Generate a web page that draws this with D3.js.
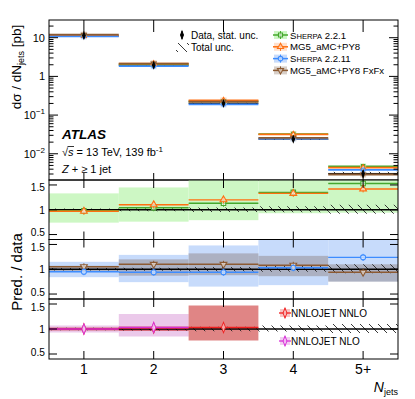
<!DOCTYPE html>
<html>
<head>
<meta charset="utf-8" />
<script src="https://cdn.jsdelivr.net/npm/d3@7"></script>
<style>
  body { margin: 0; background: #fff; }
  text { font-family: "Liberation Sans", Arial, sans-serif; fill: #000; }
</style>
</head>
<body>
<svg id="chart"></svg>
<script>
// ---- values ----
const bins = ["1", "2", "3", "4", "5+"];
const dataXs = [11.4, 1.95, 0.201, 0.024, 0.0031];     // pb
const totUp = [1.025, 1.03, 1.045, 1.07, 1.10];        // total unc. (relative)
const totDn = [0.975, 0.97, 0.955, 0.95, 0.92];

// prediction / data
const sherpa221 = [0.98, 1.04, 1.13, 1.35, 1.53];
const sherpa221Lo = [0.74, 0.76, 0.79, 0.93, 0.94];
const sherpa221Hi = [1.33, 1.45, 1.70, 1.70, 1.70];
const mg5 = [0.97, 1.10, 1.20, 1.33, 1.42];
const sherpa2211 = [0.95, 0.94, 0.94, 1.03, 1.24];
const sherpa2211Lo = [0.84, 0.74, 0.65, 0.68, 0.79];
const sherpa2211Hi = [1.15, 1.29, 1.48, 1.70, 1.70];
const fxfx = [1.05, 1.10, 1.10, 1.08, 0.94];
const fxfxLo = [0.95, 0.87, 0.88, 0.86, 0.75];
const fxfxHi = [1.07, 1.20, 1.32, 1.27, 1.10];
const nnlo = [1.0, 1.02, 1.03];
const nnloLo = [0.97, 0.96, 0.77];
const nnloHi = [1.03, 1.05, 1.47];
const nlo = [1.0, 1.03];
const nloLo = [0.93, 0.85];
const nloHi = [1.07, 1.30];

const mainTicks = [10, 1, 0.1, 0.01];
const ratioTicks = [0.5, 1, 1.5];

const W = 415, H = 399;
const left = 49, right = 398;
const svg = d3.select('#chart').attr('width', W).attr('height', H);

const col = {
  green: '#45a82d', orange: '#ff6f10', blue: '#3d8cff', brown: '#8c5a32',
  greenBand: '#cdf7c4', blueBand: '#c7dbfb', grayBand: '#acb1c2',
  red: '#f02020', magenta: '#d830d8', redBand: 'rgba(190,0,0,0.48)', pinkBand: '#ebc9ea'
};

const x = d3.scaleLinear().domain([0.5, 5.5]).range([left, right]);
const idx = d3.range(bins.length);

// hatch pattern for total unc.
const defs = svg.append('defs');
const pat = defs.append('pattern').attr('id', 'hatch').attr('patternUnits', 'userSpaceOnUse')
  .attr('width', 9).attr('height', 9);
pat.append('path').attr('d', 'M-1,-1 L10,10 M-1,8 L1,10 M8,-1 L10,1')
  .attr('stroke', '#222').attr('stroke-width', 0.9);

function clip(id, y0, y1) {
  defs.append('clipPath').attr('id', id).append('rect')
    .attr('x', left).attr('y', y0).attr('width', right - left).attr('height', y1 - y0);
}

function marker(g, type, cx, cy, color, filled, size) {
  const sym = { square: d3.symbolSquare, tri: d3.symbolTriangle, circle: d3.symbolCircle,
    tridown: d3.symbolTriangle, diamond: d3.symbolDiamond }[type];
  g.append('path').attr('d', d3.symbol().type(sym).size(size || 22)())
    .attr('transform', `translate(${cx},${cy})` + (type === 'tridown' ? ' rotate(180)' : '') +
      (type === 'diamond' ? ' scale(0.8,1.2)' : ''))
    .attr('fill', filled ? color : '#fff').attr('fill-opacity', filled ? 1 : 0.6)
    .attr('stroke', color).attr('stroke-width', 1.1);
}

function xTicks(g, y0, y1, lenTop, lenBot) {
  idx.forEach(i => {
    g.append('line').attr('x1', x(i + 1)).attr('x2', x(i + 1)).attr('y1', y0).attr('y2', y0 + lenTop)
      .attr('stroke', '#000');
    g.append('line').attr('x1', x(i + 1)).attr('x2', x(i + 1)).attr('y1', y1).attr('y2', y1 - lenBot)
      .attr('stroke', '#000');
  });
}

// ================= main panel =================
const mTop = 20, mBot = 180;
const y = d3.scaleLog().domain([2.1e-3, 28.7]).range([mBot, mTop]);
clip('cm', mTop, mBot);
const gm = svg.append('g');
const gmc = gm.append('g').attr('clip-path', 'url(#cm)');

// data hatch + line
idx.forEach(i => {
  gmc.append('rect').attr('x', x(i + 0.5)).attr('width', x(i + 1.5) - x(i + 0.5))
    .attr('y', y(dataXs[i] * totUp[i])).attr('height', y(dataXs[i] * totDn[i]) - y(dataXs[i] * totUp[i]))
    .attr('fill', 'url(#hatch)');
  gmc.append('line').attr('x1', x(i + 0.5)).attr('x2', x(i + 1.5))
    .attr('y1', y(dataXs[i])).attr('y2', y(dataXs[i])).attr('stroke', '#000').attr('stroke-width', 1);
});

const preds = [
  { v: sherpa221, c: col.green, m: 'square', band: col.greenBand },
  { v: mg5, c: col.orange, m: 'tri', band: '#ffd7bd' },
  { v: sherpa2211, c: col.blue, m: 'circle', band: col.blueBand },
  { v: fxfx, c: col.brown, m: 'tridown', band: '#d9c9b9' }
];
preds.forEach(p => {
  idx.forEach(i => {
    const yy = y(p.v[i] * dataXs[i]);
    gmc.append('rect').attr('x', x(i + 1) - 3).attr('width', 6).attr('y', yy - 3).attr('height', 6)
      .attr('fill', p.band).attr('opacity', 0.8);
    gmc.append('line').attr('x1', x(i + 0.5)).attr('x2', x(i + 1.5)).attr('y1', yy).attr('y2', yy)
      .attr('stroke', p.c).attr('stroke-width', 1.8);
  });
});
preds.forEach(p => idx.forEach(i => marker(gmc, p.m, x(i + 1), y(p.v[i] * dataXs[i]), p.c, false, 11)));
idx.forEach(i => {
  gmc.append('line').attr('x1', x(i + 1)).attr('x2', x(i + 1))
    .attr('y1', y(dataXs[i]) - 3).attr('y2', y(dataXs[i]) + 3).attr('stroke', '#000');
  marker(gmc, 'diamond', x(i + 1), y(dataXs[i]), '#000', true, 9);
});

// main axes
gm.append('rect').attr('x', left).attr('y', mTop).attr('width', right - left).attr('height', mBot - mTop)
  .attr('fill', 'none').attr('stroke', '#000');
xTicks(gm, mTop, mBot, 12, 7);
const decades = d3.range(-3, 2);
decades.forEach(d => {
  d3.range(1, 10).forEach(k => {
    const v = k * Math.pow(10, d);
    if (v < y.domain()[0] || v > y.domain()[1]) return;
    const len = k === 1 ? 9 : 4.5;
    gm.append('line').attr('x1', left).attr('x2', left + len).attr('y1', y(v)).attr('y2', y(v)).attr('stroke', '#000');
    gm.append('line').attr('x1', right).attr('x2', right - len).attr('y1', y(v)).attr('y2', y(v)).attr('stroke', '#000');
  });
});
mainTicks.forEach(v => {
  const t = gm.append('text').attr('x', 45).attr('y', y(v) + 4).attr('text-anchor', 'end').attr('font-size', 11);
  if (v === 10) t.text('10');
  else if (v === 1) t.text('1');
  else {
    t.append('tspan').text('10');
    t.append('tspan').attr('dy', -5).attr('font-size', 8).text('\u2212' + Math.round(-Math.log10(v)));
  }
});

// y title main
const yt = svg.append('text').attr('transform', 'translate(21,67) rotate(-90)').attr('text-anchor', 'middle')
  .attr('font-size', 13.5);
yt.append('tspan').text('d\u03c3 / dN');
yt.append('tspan').attr('dy', 3).attr('font-size', 9).text('jets');
yt.append('tspan').attr('dy', -3).text(' [pb]');

// ATLAS label
svg.append('text').attr('x', 62).attr('y', 139).attr('font-size', 13.5).attr('font-weight', 'bold')
  .attr('font-style', 'italic').text('ATLAS');
const l2 = svg.append('text').attr('x', 62).attr('y', 156).attr('font-size', 11);
l2.append('tspan').text('\u221a');
l2.append('tspan').attr('font-style', 'italic').text('s');
l2.append('tspan').text(' = 13 TeV, 139 fb');
l2.append('tspan').attr('dy', -4).attr('font-size', 8).text('-1');
const l3 = svg.append('text').attr('x', 62).attr('y', 173).attr('font-size', 11);
l3.append('tspan').attr('font-style', 'italic').text('Z');
l3.append('tspan').text(' + \u2265 1 jet');
// overline of sqrt
svg.append('line').attr('x1', 67.5).attr('x2', 74).attr('y1', 146.5).attr('y2', 146.5).attr('stroke', '#000').attr('stroke-width', 0.8);

// legend
const lg = svg.append('g');
lg.append('line').attr('x1', 182).attr('x2', 182).attr('y1', 31).attr('y2', 39).attr('stroke', '#000');
marker(lg, 'diamond', 182, 35, '#000', true, 12);
lg.append('text').attr('x', 191).attr('y', 38.5).attr('font-size', 10).text('Data, stat. unc.');
lg.append('rect').attr('x', 176).attr('y', 43).attr('width', 13).attr('height', 9).attr('fill', 'url(#hatch)');
lg.append('text').attr('x', 191).attr('y', 51).attr('font-size', 10).text('Total unc.');

const legItems = [
  { sc: ['S', 'HERPA', ' 2.2.1'], c: col.green, m: 'square', band: col.greenBand },
  { t: 'MG5_aMC+PY8', c: col.orange, m: 'tri', band: '#ffe0cc' },
  { sc: ['S', 'HERPA', ' 2.2.11'], c: col.blue, m: 'circle', band: col.blueBand },
  { t: 'MG5_aMC+PY8 FxFx', c: col.brown, m: 'tridown', band: '#d8cfc8' }
];
legItems.forEach((d, k) => {
  const yy = 35 + k * 11.8;
  lg.append('rect').attr('x', 274).attr('y', yy - 4).attr('width', 13).attr('height', 8).attr('fill', d.band);
  lg.append('line').attr('x1', 273).attr('x2', 288).attr('y1', yy).attr('y2', yy).attr('stroke', d.c).attr('stroke-width', 1.5);
  lg.append('line').attr('x1', 280.5).attr('x2', 280.5).attr('y1', yy - 4).attr('y2', yy + 4).attr('stroke', d.c);
  marker(lg, d.m, 280.5, yy, d.c, false, 16);
  const t = lg.append('text').attr('x', 290).attr('y', yy + 3.5).attr('font-size', 9.6);
  if (d.sc) {
    t.append('tspan').text(d.sc[0]);
    t.append('tspan').attr('font-size', 7.6).text(d.sc[1]);
    t.append('tspan').text(d.sc[2]);
  } else t.text(d.t);
});

// ================= ratio panels =================
const panels = [
  { top: 180, bot: 239.5 }, { top: 239.5, bot: 299 }, { top: 299, bot: 359 }
];
function ratioPanel(k, draw) {
  const p = panels[k];
  const r = d3.scaleLinear().domain([0.4, 1.6]).range([p.bot, p.top]);
  clip('cr' + k, p.top, p.bot);
  const g = svg.append('g');
  const gc = g.append('g').attr('clip-path', `url(#cr${k})`);
  draw(gc, r);
  // data hatch and unity line
  idx.forEach(i => {
    gc.append('rect').attr('x', x(i + 0.5)).attr('width', x(i + 1.5) - x(i + 0.5))
      .attr('y', r(totUp[i])).attr('height', r(totDn[i]) - r(totUp[i])).attr('fill', 'url(#hatch)');
  });
  gc.append('line').attr('x1', left).attr('x2', right).attr('y1', r(1)).attr('y2', r(1))
    .attr('stroke', '#000').attr('stroke-width', 1.4);
  draw.after && draw.after(gc, r);
  g.append('rect').attr('x', left).attr('y', p.top).attr('width', right - left).attr('height', p.bot - p.top)
    .attr('fill', 'none').attr('stroke', '#000');
  xTicks(g, p.top, p.bot, 8, 8);
  ratioTicks.forEach(v => {
    g.append('line').attr('x1', left).attr('x2', left + 8).attr('y1', r(v)).attr('y2', r(v)).attr('stroke', '#000');
    g.append('line').attr('x1', right).attr('x2', right - 8).attr('y1', r(v)).attr('y2', r(v)).attr('stroke', '#000');
    // 0.5 sits a little above its tick, 1.5 a little below, as in the reference
    const dy = v === 0.5 ? 1.5 : v === 1.5 ? 6.5 : 3.8;
    g.append('text').attr('x', 45).attr('y', r(v) + dy).attr('text-anchor', 'end').attr('font-size', 10.2)
      .text(v === 1 ? '1' : v.toString());
  });
  return r;
}

function bandSeries(gc, r, lo, hi, color) {
  lo.forEach((l, i) => {
    gc.append('rect').attr('x', x(i + 0.5)).attr('width', x(i + 1.5) - x(i + 0.5))
      .attr('y', r(hi[i])).attr('height', r(l) - r(hi[i])).attr('fill', color);
  });
}
function lineSeries(gc, r, v, color) {
  v.forEach((val, i) => {
    gc.append('line').attr('x1', x(i + 0.5)).attr('x2', x(i + 1.5)).attr('y1', r(val)).attr('y2', r(val))
      .attr('stroke', color).attr('stroke-width', 1.4);
  });
}
function markSeries(gc, r, v, color, m, filled, size) {
  v.forEach((val, i) => {
    gc.append('line').attr('x1', x(i + 1)).attr('x2', x(i + 1)).attr('y1', r(val) - 3.5).attr('y2', r(val) + 3.5)
      .attr('stroke', color);
    marker(gc, m, x(i + 1), r(val), color, filled, size || 20);
  });
}

// panel 1: Sherpa 2.2.1 + MG5_aMC+PY8
const d1 = (gc, r) => { bandSeries(gc, r, sherpa221Lo, sherpa221Hi, col.greenBand); };
d1.after = (gc, r) => {
  lineSeries(gc, r, sherpa221, col.green); lineSeries(gc, r, mg5, col.orange);
  markSeries(gc, r, sherpa221, col.green, 'square'); markSeries(gc, r, mg5, col.orange, 'tri');
};
ratioPanel(0, d1);

// panel 2: Sherpa 2.2.11 + FxFx
const d2 = (gc, r) => {
  bandSeries(gc, r, sherpa2211Lo, sherpa2211Hi, col.blueBand);
  bandSeries(gc, r, fxfxLo, fxfxHi, col.grayBand);
};
d2.after = (gc, r) => {
  lineSeries(gc, r, fxfx, col.brown); lineSeries(gc, r, sherpa2211, col.blue);
  markSeries(gc, r, fxfx, col.brown, 'tridown'); markSeries(gc, r, sherpa2211, col.blue, 'circle');
};
ratioPanel(1, d2);

// panel 3: NNLOJET
const d3p = (gc, r) => {
  bandSeries(gc, r, nloLo, nloHi, col.pinkBand);
  bandSeries(gc, r, nnloLo, nnloHi, col.redBand);
};
d3p.after = (gc, r) => {
  lineSeries(gc, r, nnlo, col.red); lineSeries(gc, r, nlo, col.magenta);
  markSeries(gc, r, nnlo, col.red, 'diamond', false, 22);
  markSeries(gc, r, nlo, col.magenta, 'diamond', false, 22);
};
ratioPanel(2, d3p);

// NNLOJET legend
const lg3 = svg.append('g');
[{ t: 'NNLOJET NNLO', c: col.red, band: '#f7c4c4', y: 313 }, { t: 'NNLOJET NLO', c: col.magenta, band: '#f1cdf0', y: 341 }]
  .forEach(d => {
    lg3.append('rect').attr('x', 280).attr('y', d.y - 4).attr('width', 10).attr('height', 8).attr('fill', d.band);
    lg3.append('line').attr('x1', 279).attr('x2', 291).attr('y1', d.y).attr('y2', d.y).attr('stroke', d.c).attr('stroke-width', 1.3);
    lg3.append('line').attr('x1', 285).attr('x2', 285).attr('y1', d.y - 5).attr('y2', d.y + 5).attr('stroke', d.c);
    marker(lg3, 'diamond', 285, d.y, d.c, false, 20);
    lg3.append('text').attr('x', 291).attr('y', d.y + 3.5).attr('font-size', 10).text(d.t);
  });

// ratio y title
svg.append('text').attr('transform', 'translate(22,272) rotate(-90)').attr('text-anchor', 'middle')
  .attr('font-size', 15).text('Pred. / data');

// x tick labels + title
idx.forEach(i => {
  svg.append('text').attr('x', x(i + 1)).attr('y', 374).attr('text-anchor', 'middle').attr('font-size', 14)
    .text(bins[i]);
});
const xt = svg.append('text').attr('x', 398).attr('y', 392).attr('text-anchor', 'end').attr('font-size', 14);
xt.append('tspan').attr('font-style', 'italic').text('N');
xt.append('tspan').attr('dy', 3).attr('font-size', 9).text('jets');
</script>
</body>
</html>
